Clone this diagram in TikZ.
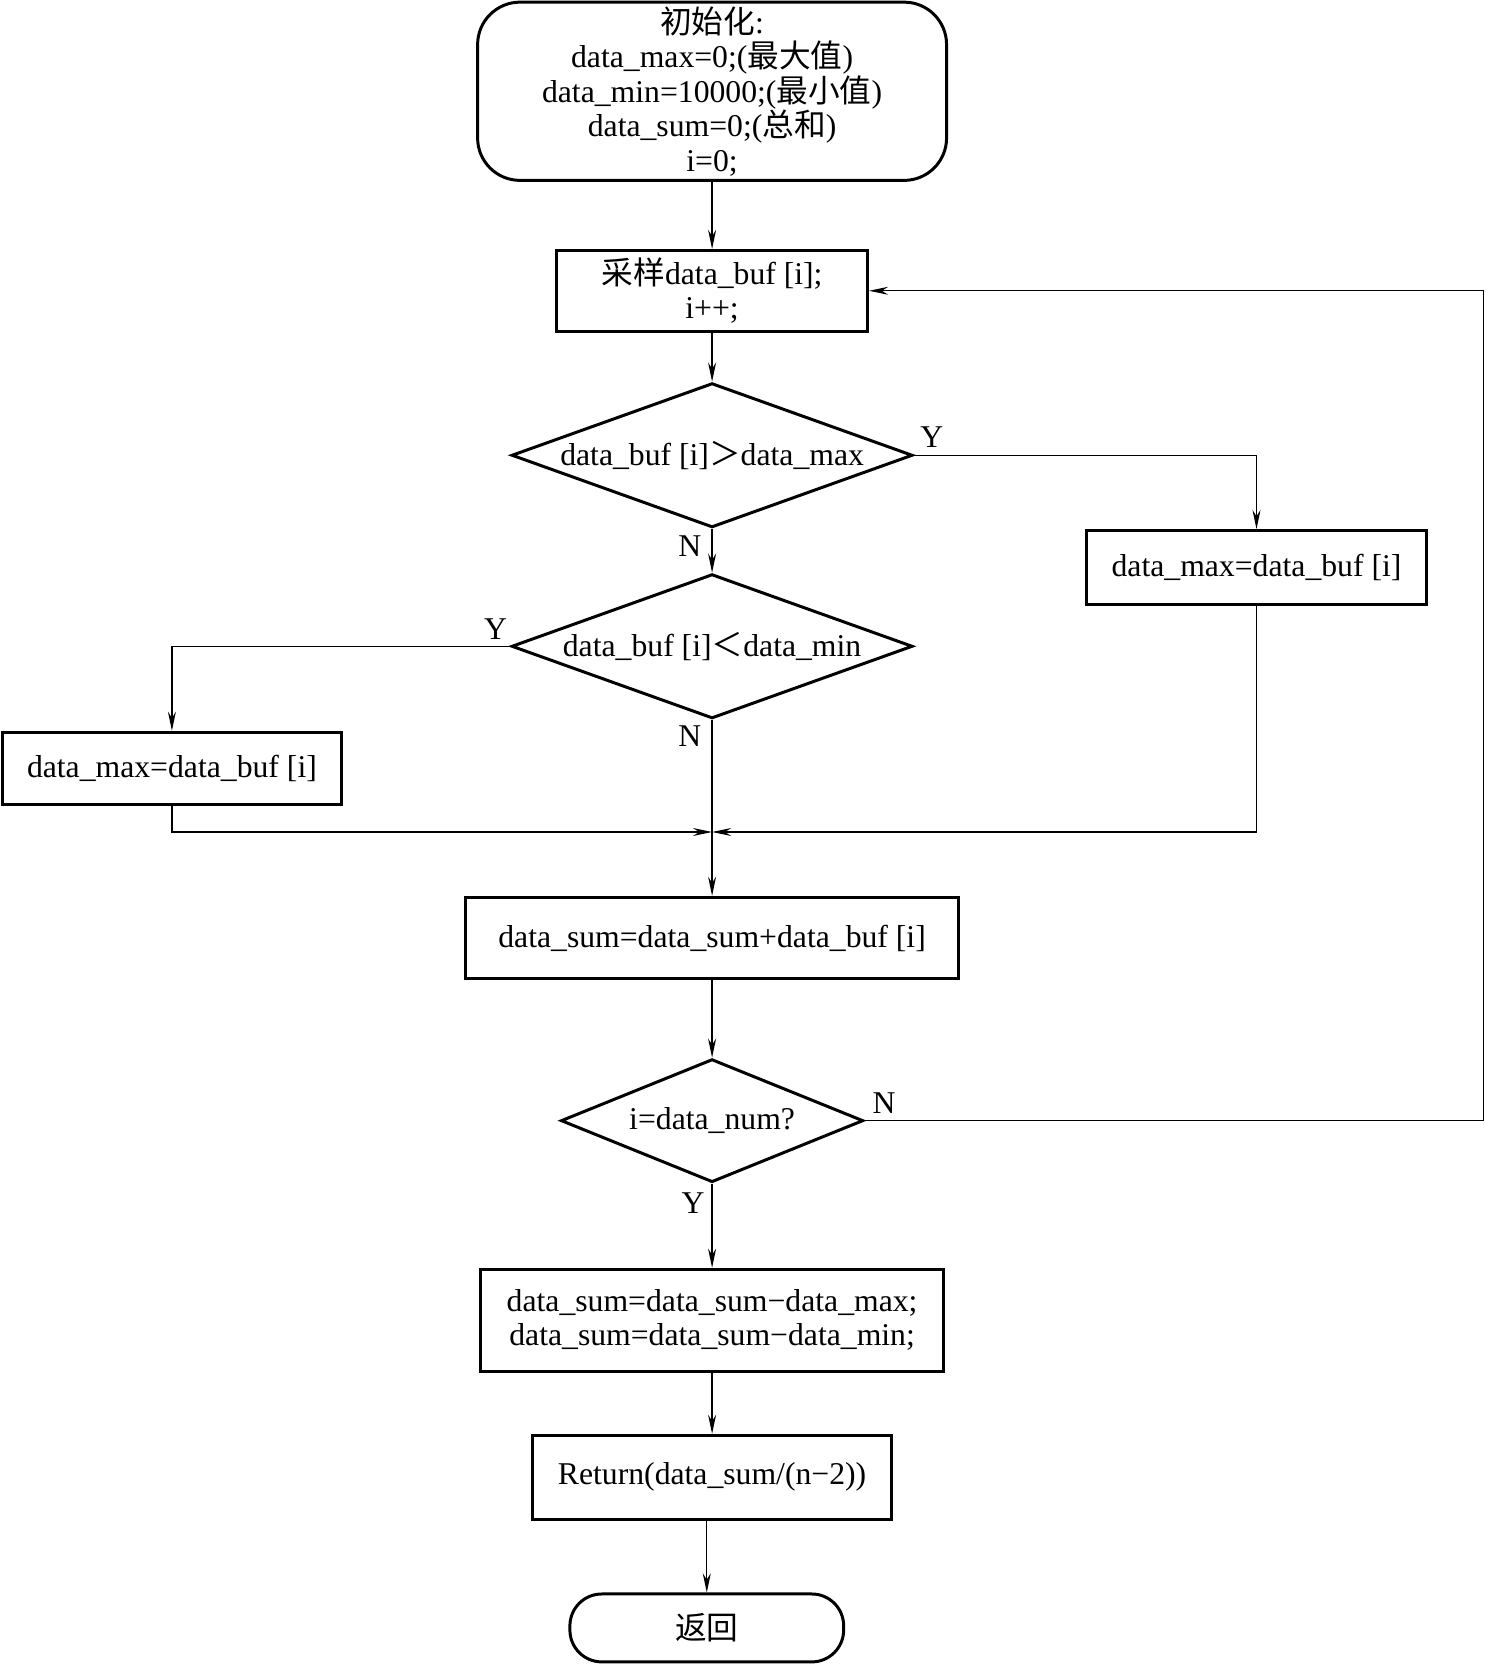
\documentclass[tikz,border=0pt]{standalone}
\usepackage{fontspec}
\setmainfont{Liberation Serif}
\newfontfamily\cjk{Noto Sans CJK SC}
\usetikzlibrary{arrows.meta,shapes.geometric}

\begin{document}
\begin{tikzpicture}[x=0.02cm,y=-0.02cm,
    font=\fontsize{17}{18.5}\selectfont,
    flow/.style={-{Stealth[length=3.6mm,width=1.5mm]},line width=0.7pt}]
  \useasboundingbox (0,0) rectangle (1400,1568);
  \begin{scope}[every node/.style={draw,line width=1.6pt,align=center,inner sep=0pt}]
    \node[rounded corners=0.8cm,minimum width=8.84cm,minimum height=3.36cm] (Init) at (671,86)
      {{\cjk 初始化}:\\data\_max=0;({\cjk 最大值})\\data\_min=10000;({\cjk 最小值})\\data\_sum=0;({\cjk 总和})\\i=0;};
    \node[minimum width=5.86cm,minimum height=1.52cm] (Sample) at (671,274)
      {{\cjk 采样}data\_buf [i];\\i++;};
    \node[diamond,aspect=2.8,minimum width=7.56cm,minimum height=2.72cm] (IfMax) at (671,429)
      {data\_buf [i]{\cjk ＞}data\_max};
    \node[minimum width=6.42cm,minimum height=1.40cm] (SetMax) at (1184,535)
      {data\_max=data\_buf [i]};
    \node[diamond,aspect=2.8,minimum width=7.56cm,minimum height=2.72cm] (IfMin) at (671,609)
      {data\_buf [i]{\cjk ＜}data\_min};
    \node[minimum width=6.40cm,minimum height=1.36cm] (SetMin) at (162,724)
      {data\_max=data\_buf [i]};
    \node[minimum width=9.28cm,minimum height=1.54cm] (Sum) at (671,884)
      {data\_sum=data\_sum+data\_buf [i]};
    \node[diamond,aspect=2.5,minimum width=5.70cm,minimum height=2.32cm] (IfEnd) at (671,1056)
      {i=data\_num?};
    \node[minimum width=8.74cm,minimum height=1.92cm] (Trim) at (671,1244)
      {data\_sum=data\_sum−data\_max;\\data\_sum=data\_sum−data\_min;};
    \node[minimum width=6.76cm,minimum height=1.58cm] (Ret) at (671,1392)
      {Return(data\_sum/(n−2))};
    \node[rounded corners=0.6cm,minimum width=5.16cm,minimum height=1.28cm] (End) at (666,1534)
      {{\cjk 返回}};
  \end{scope}
  \coordinate (Join) at (671,784);
  \coordinate (Back) at (1398,0);
  \begin{scope}[every node/.style={inner sep=0pt}]
    \node (y1) at (878,412) {Y};
    \node (n1) at (650,515) {N};
    \node (y2) at (467,593) {Y};
    \node (n2) at (650,694) {N};
    \node (n3) at (833,1039) {N};
    \node (y3) at (653,1134) {Y};
  \end{scope}
  \begin{scope}[every edge/.style={draw,flow}]
    \path (Init) edge (Sample);
    \path (Sample) edge (IfMax);
    \path (IfMax) edge (IfMin);
    \path (IfMin) edge (Sum);
    \path (Sum) edge (IfEnd);
    \path (IfEnd) edge (Trim);
    \path (Trim) edge (Ret);
    \path (Ret.south -| End.north) edge (End.north);
  \end{scope}
  \draw[flow] (IfMax.east) -| (SetMax.north);
  \draw[flow] (IfMin.west) -| (SetMin.north);
  \draw[flow] (SetMax.south) |- (Join);
  \draw[flow] (SetMin.south) |- (Join);
  \draw[flow] (IfEnd.east) -- (IfEnd.east -| Back) |- (Sample.east);
\end{tikzpicture}
\end{document}
